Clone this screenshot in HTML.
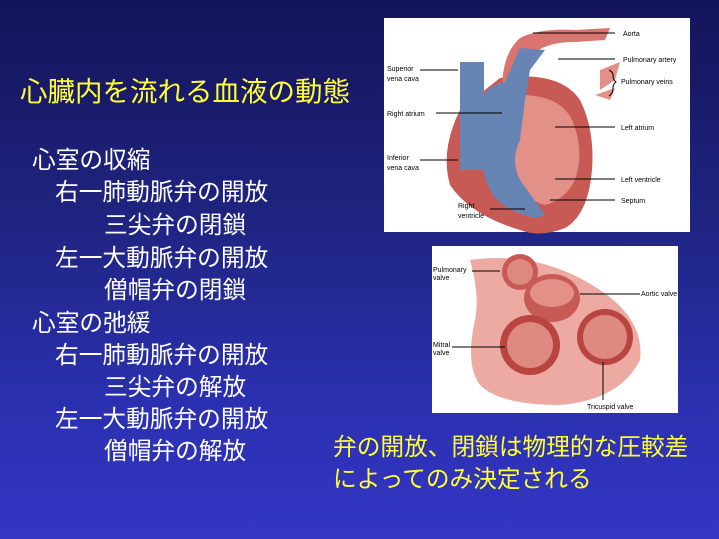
<!DOCTYPE html>
<html><head><meta charset="utf-8"><style>
body{margin:0;width:719px;height:539px;overflow:hidden;background:linear-gradient(180deg,#14145a 0%,#1f2480 40%,#2b30b0 75%,#3436c4 100%);font-family:"Liberation Sans","Noto Sans CJK JP",sans-serif;position:relative}
.t{position:absolute;white-space:nowrap;font-size:23.7px;color:#fff;line-height:1}
.y{color:#ffff33}
svg{position:absolute;left:0;top:0}
.l{font-family:"Liberation Sans",sans-serif;font-size:7px;fill:#000}
</style></head><body>
<div class="t y" style="left:20px;top:78px;font-size:27.5px">心臓内を流れる血液の動態</div>
<div class="t" style="left:32px;top:150px">心室の収縮</div>
<div class="t" style="left:55px;top:182px">右一肺動脈弁の開放</div>
<div class="t" style="left:104px;top:215px">三尖弁の閉鎖</div>
<div class="t" style="left:55px;top:248px">左一大動脈弁の開放</div>
<div class="t" style="left:104px;top:280px">僧帽弁の閉鎖</div>
<div class="t" style="left:32px;top:313px">心室の弛緩</div>
<div class="t" style="left:55px;top:345px">右一肺動脈弁の開放</div>
<div class="t" style="left:104px;top:377px">三尖弁の解放</div>
<div class="t" style="left:55px;top:409px">左一大動脈弁の開放</div>
<div class="t" style="left:104px;top:441px">僧帽弁の解放</div>
<div class="t y" style="left:333px;top:437px">弁の開放、閉鎖は物理的な圧較差</div>
<div class="t y" style="left:333px;top:469px">によってのみ決定される</div>
<svg width="719" height="539">
<rect x="384" y="18" width="306" height="214" fill="#fff"/>
<path d="M500,78 Q560,70 580,100 Q595,130 592,170 Q588,215 565,228 Q540,238 520,230 Q470,215 450,185 Q440,150 460,110 Z" fill="#c85a55"/>
<path d="M520,95 Q560,95 572,120 Q585,150 575,180 Q565,200 545,205 Q525,200 515,180 Q505,140 520,95Z" fill="#e29088"/>
<path d="M505,120 Q495,60 520,38 Q540,28 575,30 L610,28 L605,40 L575,42 Q540,42 528,60 Q515,80 520,120Z" fill="#d9756e"/>
<path d="M460,62 L484,62 L484,95 Q490,85 505,82 L520,48 L545,50 L530,70 L525,100 L520,140 Q510,160 520,180 L545,215 L535,218 Q500,210 490,190 Q480,170 484,150 L484,170 L460,170 Z" fill="#6685b5"/>
<path d="M600,70 L620,62 L615,80 L600,90 Z M595,95 L615,88 L610,100Z" fill="#e29088"/>
<g stroke="#000" stroke-width="1" fill="none">
<line x1="533" y1="33" x2="615" y2="33"/><line x1="558" y1="59" x2="615" y2="59"/>
<line x1="420" y1="70" x2="458" y2="70"/><line x1="436" y1="113" x2="502" y2="113"/>
<line x1="555" y1="127" x2="615" y2="127"/><line x1="420" y1="160" x2="458" y2="160"/>
<line x1="555" y1="179" x2="615" y2="179"/><line x1="550" y1="200" x2="615" y2="200"/>
<line x1="490" y1="209" x2="525" y2="209"/>
<path d="M609,70 Q613,72 613,75 Q613,80 616,82 Q613,84 613,88 Q613,94 609,96"/>
</g>
<text class="l" x="623" y="36">Aorta</text>
<text class="l" x="623" y="62">Pulmonary artery</text>
<text class="l" x="621" y="84">Pulmonary veins</text>
<text class="l" x="387" y="71">Superior</text><text class="l" x="387" y="81">vena cava</text>
<text class="l" x="387" y="116">Right atrium</text>
<text class="l" x="387" y="160">Inferior</text><text class="l" x="387" y="170">vena cava</text>
<text class="l" x="621" y="130">Left atrium</text>
<text class="l" x="621" y="182">Left ventricle</text>
<text class="l" x="621" y="203">Septum</text>
<text class="l" x="458" y="208">Right</text><text class="l" x="458" y="218">ventricle</text>
<rect x="432" y="246" width="246" height="167" fill="#fff"/>
<path d="M470,260 Q540,250 600,290 Q645,320 640,360 Q620,400 560,405 Q500,405 480,385 Q465,365 475,320 Q480,295 470,260Z" fill="#ecaaa2"/>
<circle cx="520" cy="272" r="18" fill="#c85a55"/><circle cx="520" cy="272" r="13" fill="#de8a80"/>
<ellipse cx="552" cy="298" rx="28" ry="24" fill="#c85a55"/><ellipse cx="552" cy="293" rx="22" ry="14" fill="#e29088"/>
<circle cx="530" cy="345" r="30" fill="#b8453f"/><circle cx="530" cy="345" r="23" fill="#de8a80"/>
<circle cx="605" cy="337" r="28" fill="#b8453f"/><circle cx="605" cy="337" r="22" fill="#de8a80"/>
<g stroke="#000" stroke-width="1"><line x1="472" y1="271" x2="500" y2="271"/><line x1="580" y1="294" x2="640" y2="294"/><line x1="452" y1="347" x2="505" y2="347"/><line x1="603" y1="362" x2="603" y2="400"/></g>
<text class="l" x="433" y="272" font-size="6">Pulmonary</text><text class="l" x="433" y="280" font-size="6">valve</text>
<text class="l" x="641" y="296" font-size="6">Aortic valve</text>
<text class="l" x="433" y="347" font-size="6">Mitral</text><text class="l" x="433" y="355" font-size="6">valve</text>
<text class="l" x="587" y="409" font-size="6">Tricuspid valve</text>
</svg>
</body></html>
